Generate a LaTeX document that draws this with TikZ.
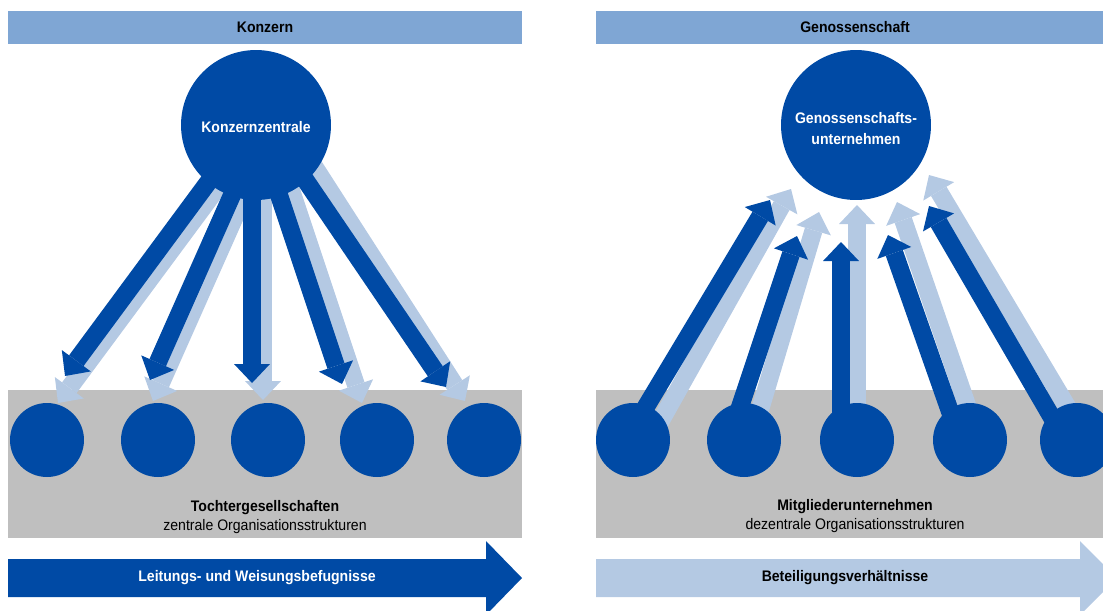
\documentclass[tikz,border=0pt]{standalone}
\usepackage{fontspec}
\setmainfont{Liberation Sans}[FakeStretch=0.92]
\usepackage{tikz}
\usetikzlibrary{arrows.meta}
\definecolor{dunkelblau}{RGB}{0,74,165}
\definecolor{hellblau}{RGB}{180,201,227}
\definecolor{kopfblau}{RGB}{127,166,212}
\definecolor{grau}{RGB}{191,191,191}
\tikzset{
    kopf/.style={fill=kopfblau, minimum width=10.28cm, minimum height=0.66cm, inner sep=0pt, font=\bfseries},
    zentrale/.style={circle, fill=dunkelblau, minimum size=3.0cm, inner sep=0pt},
    kreistext/.style={text=white, font=\fontsize{8.7}{11.9}\selectfont\bfseries, align=center},
    einheit/.style={circle, fill=dunkelblau, minimum size=1.48cm, inner sep=0pt},
    pfeil/.style={line width=0.36cm, -{Triangle[width=0.72cm, length=0.38cm, line width=0pt]}}
}

\begin{document}
\fontsize{8.7}{10.4}\selectfont
\begin{tikzpicture}[
    x=0.02cm, y=-0.02cm,
    legende/.style={align=center},
    band/.style={font=\bfseries}
]
    \useasboundingbox (0,0) rectangle (1103,610);

    % --- Left half: Konzern ---
    \node[kopf] (kopfL) at (265,27.5) {Konzern};
    \fill[grau] (8,390) rectangle (522,538);

    % Light arrows (behind)
    \foreach \a/\b/\c/\d [count=\i] in {238/160/58/403, 260/160/153/401, 263/160/263/400, 281/160/362/403, 310/160/465/401} {
        \coordinate (lsL\i) at (\a,\b);
        \coordinate (ltL\i) at (\c,\d);
        \draw[pfeil, hellblau] (lsL\i) -- (ltL\i);
    }

    \node[zentrale] (kz) at (256,125) {};
    \node[kreistext] (kzt) at ([yshift=-0.04cm]kz.center) {Konzernzentrale};

    % Dark arrows
    \foreach \a/\b/\c/\d [count=\i] in {232/150/65/376, 252/150/150/380, 252/150/252/383, 264/150/342/384, 285/150/446/387} {
        \coordinate (dsL\i) at (\a,\b);
        \coordinate (dtL\i) at (\c,\d);
        \draw[pfeil, dunkelblau] (dsL\i) -- (dtL\i);
    }

    % Subsidiaries
    \foreach \x [count=\i] in {47,158,268,377,484}
        \node[einheit] (t\i) at (\x,440) {};

    \node[legende] (tochter) at (265,517) {\textbf{Tochtergesellschaften}\\zentrale Organisationsstrukturen};

    \fill[dunkelblau] (8,559) -- (486,559) -- (486,541) -- (522,578) -- (486,615) -- (486,597) -- (8,597) -- cycle;
    \node[band, text=white] (leitung) at (257,578) {Leitungs- und Weisungsbefugnisse};

    % --- Right half: Genossenschaft ---
    \node[kopf, minimum width=10.14cm] (kopfR) at (849.5,27.5) {\hspace*{0.22cm}Genossenschaft};
    \fill[grau] (596,390) rectangle (1103,538);

    \node[zentrale] (gu) at (856,125) {};
    \node[kreistext] (gut) at ([yshift=-0.07cm]gu.center) {Genossenschafts-\\unternehmen};

    % Light arrows (behind members)
    \foreach \a/\b/\c/\d [count=\i] in {650/440/791/189, 751/440/819/212, 857/440/857/205, 979/440/897/202, 1087/440/929/175} {
        \coordinate (lsR\i) at (\a,\b);
        \coordinate (ltR\i) at (\c,\d);
        \draw[pfeil, hellblau] (lsR\i) -- (ltR\i);
    }

    % Dark arrows
    \foreach \a/\b/\c/\d [count=\i] in {626/440/770/200, 729/440/797/236, 841/440/841/242, 960/440/888/235, 1065/440/929/206} {
        \coordinate (dsR\i) at (\a,\b);
        \coordinate (dtR\i) at (\c,\d);
        \draw[pfeil, dunkelblau] (dsR\i) -- (dtR\i);
    }

    % Members
    \foreach \x [count=\i] in {633,744,857,970,1077}
        \node[einheit] (m\i) at (\x,440) {};

    \node[legende] (mitglieder) at (855,516) {\textbf{Mitgliederunternehmen}\\dezentrale Organisationsstrukturen};

    \fill[hellblau] (596,559) -- (1080,559) -- (1080,541) -- (1117,578) -- (1080,615) -- (1080,597) -- (596,597) -- cycle;
    \node[band] (beteiligung) at (845,578) {Beteiligungsverhältnisse};

\end{tikzpicture}
\end{document}
